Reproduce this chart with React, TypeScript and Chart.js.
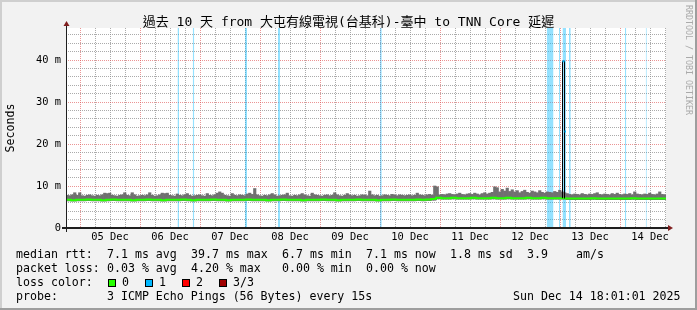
import React, { useEffect, useRef } from 'react';
import { Chart, registerables } from 'chart.js';

Chart.register(...registerables);

// ---------- data ----------
// time axis in hours since 04 Dec 00:00; one smoke value per hour from X_MIN
const X_MIN = 18.4;
const X_MAX = 258.4;
const Y_MAX = 47.62; // ms

const dayTickHours = [36, 60, 84, 108, 132, 156, 180, 204, 228, 252];
const dayLabels = ['05 Dec', '06 Dec', '07 Dec', '08 Dec', '09 Dec', '10 Dec', '11 Dec', '12 Dec', '13 Dec', '14 Dec'];
const yTickValues = [0, 10, 20, 30, 40];
const yTickLabels = ['0', '10 m', '20 m', '30 m', '40 m'];

// smoke upper edge (ms), 1 h per value
const smokeHigh = [
  7.8, 7.7, 7.9, 8.4, 7.8, 8.4, 7.7, 7.6, 7.8, 7.9, 7.7, 7.6, 7.8, 7.7, 7.9, 8.3, 8.2, 8.3, 7.8, 7.7,
  7.6, 7.8, 7.9, 8.4, 7.8, 7.7, 8.4, 7.9, 7.6, 7.7, 7.8, 7.7, 7.9, 8.4, 7.8, 7.6, 7.7, 7.9, 8.3, 8.2,
  8.3, 7.8, 7.7, 7.6, 8.1, 7.8, 7.7, 7.9, 8.2, 7.8, 7.6, 7.7, 7.8, 7.9, 7.7, 7.6, 8.2, 7.8, 7.7, 7.9,
  8.3, 8.6, 8.3, 7.8, 7.7, 7.6, 8.2, 7.8, 7.7, 7.9, 7.8, 7.7, 8.1, 8.3, 8.0, 9.4, 7.9, 7.7, 7.6, 7.8,
  7.7, 7.9, 8.2, 7.8, 7.6, 7.7, 7.8, 7.9, 8.3, 7.7, 7.6, 7.8, 7.7, 7.9, 8.2, 7.8, 7.7, 7.6, 8.3, 7.9,
  7.8, 7.7, 7.6, 7.8, 7.9, 7.7, 7.8, 8.4, 7.9, 7.7, 7.6, 7.8, 8.2, 7.9, 7.7, 7.8, 7.6, 7.7, 7.9, 7.8,
  7.7, 8.8, 7.9, 7.7, 7.8, 7.6, 7.7, 7.9, 7.8, 7.7, 8.0, 7.8, 7.7, 7.9, 7.8, 7.7, 7.8, 7.9, 7.7, 7.8,
  8.3, 7.9, 7.8, 7.7, 7.9, 8.0, 7.8, 10.0, 9.8, 7.9, 8.0, 7.9, 8.1, 8.2, 8.0, 7.9, 8.1, 8.3, 8.0, 7.9,
  8.1, 8.2, 8.0, 8.3, 8.1, 7.9, 8.2, 8.4, 8.1, 8.3, 8.5, 9.8, 9.6, 8.6, 9.2, 8.8, 9.5, 8.7, 9.1, 8.6,
  8.9, 8.4, 8.7, 9.0, 8.5, 8.3, 8.8, 8.6, 8.4, 8.9, 8.5, 8.3, 8.6, 8.5, 8.4, 8.7, 8.5, 9.0, 8.6, 8.4,
  8.2, 8.0, 7.9, 8.1, 8.0, 7.9, 8.2, 8.0, 7.9, 8.1, 8.0, 8.2, 8.4, 8.0, 7.9, 8.1, 8.0, 7.9, 8.2, 8.0,
  8.3, 8.0, 7.9, 8.1, 8.0, 8.2, 7.9, 8.6, 8.1, 8.0, 7.9, 8.1, 8.0, 8.3, 8.0, 7.9, 8.1, 8.6, 8.0, 7.9,
];

// smoke lower edge (ms), 2 h per value
const smokeLow = [
  6.45, 6.4, 6.45, 6.45, 6.5, 6.45, 6.45, 6.4, 6.45, 6.5, 6.45, 6.45, 6.45, 6.4, 6.45, 6.45, 6.5, 6.45, 6.45, 6.4,
  6.45, 6.45, 6.45, 6.5, 6.45, 6.4, 6.45, 6.45, 6.45, 6.5, 6.45, 6.45, 6.4, 6.45, 6.45, 6.45, 6.5, 6.45, 6.45, 6.45,
  6.4, 6.45, 6.45, 6.5, 6.45, 6.45, 6.45, 6.4, 6.45, 6.45, 6.45, 6.5, 6.45, 6.45, 6.4, 6.45, 6.45, 6.45, 6.5, 6.45,
  6.45, 6.45, 6.4, 6.45, 6.45, 6.5, 6.45, 6.45, 6.45, 6.45, 6.5, 6.45, 6.5, 6.6, 6.9, 6.85, 6.85, 6.9, 6.85, 6.85,
  6.85, 6.9, 6.85, 6.85, 6.85, 6.9, 6.85, 6.85, 6.9, 6.85, 6.85, 6.85, 6.9, 6.85, 6.85, 6.9, 6.85, 6.85, 6.85, 6.85,
  6.75, 6.75, 6.75, 6.75, 6.75, 6.8, 6.75, 6.75, 6.75, 6.75, 6.75, 6.75, 6.75, 6.8, 6.75, 6.75, 6.75, 6.75, 6.75, 6.75,
];

// median rtt (ms), 2 h per value
const median = [
  6.7, 6.6, 6.7, 6.7, 6.8, 6.7, 6.7, 6.6, 6.7, 6.8, 6.7, 6.7, 6.7, 6.6, 6.7, 6.7, 6.8, 6.7, 6.7, 6.6,
  6.7, 6.7, 6.7, 6.8, 6.7, 6.6, 6.7, 6.7, 6.7, 6.8, 6.7, 6.7, 6.6, 6.7, 6.7, 6.7, 6.8, 6.7, 6.7, 6.7,
  6.6, 6.7, 6.7, 6.8, 6.7, 6.7, 6.7, 6.6, 6.7, 6.7, 6.7, 6.8, 6.7, 6.7, 6.6, 6.7, 6.7, 6.7, 6.8, 6.7,
  6.7, 6.7, 6.6, 6.7, 6.7, 6.8, 6.7, 6.7, 6.7, 6.7, 6.8, 6.7, 6.8, 6.9, 7.2, 7.1, 7.1, 7.2, 7.1, 7.1,
  7.1, 7.2, 7.1, 7.1, 7.1, 7.2, 7.1, 7.1, 7.2, 7.1, 7.1, 7.1, 7.2, 7.1, 7.1, 7.2, 7.1, 7.1, 7.1, 7.1,
  7.0, 7.0, 7.0, 7.0, 7.0, 7.1, 7.0, 7.0, 7.0, 7.0, 7.0, 7.0, 7.0, 7.1, 7.0, 7.0, 7.0, 7.0, 7.0, 7.0,
];

// packet-loss (1/3) periods, hours
const lossStart = [63.0, 69.1, 90.0, 103.2, 144.0, 210.7, 215.6, 217.0, 219.6, 242.0, 250.3];
const lossEnd = [63.6, 69.7, 90.8, 104.0, 144.7, 213.4, 216.0, 218.4, 220.3, 242.5, 250.7];

// latency spike samples
const spikeStart = [217.0, 217.8];
const spikeEnd = [217.8, 218.4];
const spikeValue = [39.7, 23.0];
const spikeBase = 7.1;

const titleText = '過去 10 天 from 大屯有線電視(台基科)-臺中 to TNN Core 延遲';
const legendMedian = [
  [0, 'median rtt:'], [13, '7.1 ms avg'], [25, '39.7 ms max'], [38, '6.7 ms min'],
  [50, '7.1 ms now'], [62, '1.8 ms sd'], [73, '3.9'], [80, 'am/s'],
];
const legendLoss = [
  [0, 'packet loss:'], [13, '0.03 % avg'], [25, '4.20 % max'], [38, '0.00 % min'], [50, '0.00 % now'],
];
const lossColorNames = ['0', '1', '2', '3/3'];
const lossColors = ['#26ff00', '#00b8ff', '#ff0000', '#a00000'];
const probeText = '3 ICMP Echo Pings (56 Bytes) every 15s';
const dateText = 'Sun Dec 14 18:01:01 2025';

// ---------- drawing ----------
const W = 697;
const H = 310;
const MONO = '"DejaVu Sans Mono", "Noto Sans CJK TC", monospace';
const CH = 7.0;

const decor = {
  id: 'decor',
  beforeDraw(chart: any) {
    const { ctx, chartArea: a } = chart;
    ctx.save();
    ctx.fillStyle = '#f2f2f2';
    ctx.fillRect(0, 0, W, H);
    ctx.fillStyle = '#cfcfcf';
    ctx.fillRect(0, 0, W, 2);
    ctx.fillRect(0, 0, 2, H);
    ctx.fillStyle = '#9e9e9e';
    ctx.fillRect(W - 2, 0, 2, H);
    ctx.fillRect(0, H - 2, W, 2);
    ctx.fillStyle = '#ffffff';
    ctx.fillRect(a.left, a.top, a.right - a.left, a.bottom - a.top);
    ctx.restore();
  },
  afterDraw(chart: any) {
    const { ctx, chartArea: a } = chart;
    ctx.save();
    const x0 = a.left + 0.5;
    const y0 = a.bottom + 0.5;
    ctx.strokeStyle = '#1f1f1f';
    ctx.lineWidth = 2;
    ctx.beginPath();
    ctx.moveTo(a.left - 4, a.bottom);
    ctx.lineTo(a.right + 4, a.bottom);
    ctx.stroke();
    ctx.lineWidth = 1;
    ctx.beginPath();
    ctx.moveTo(x0, a.bottom + 4);
    ctx.lineTo(x0, a.top - 4);
    ctx.stroke();
    ctx.fillStyle = '#801f1f';
    ctx.beginPath();
    ctx.moveTo(a.right + 2, y0 - 3.5);
    ctx.lineTo(a.right + 2, y0 + 2.5);
    ctx.lineTo(a.right + 7, y0 - 0.5);
    ctx.closePath();
    ctx.fill();
    ctx.beginPath();
    ctx.moveTo(x0 - 3, a.top - 2);
    ctx.lineTo(x0 + 3, a.top - 2);
    ctx.lineTo(x0, a.top - 7);
    ctx.closePath();
    ctx.fill();

    // title
    ctx.fillStyle = '#000';
    ctx.font = `13px ${MONO}`;
    ctx.textAlign = 'center';
    ctx.textBaseline = 'alphabetic';
    ctx.fillText(titleText, W / 2, 26);

    // vertical axis label
    ctx.save();
    ctx.translate(14, (a.top + a.bottom) / 2);
    ctx.rotate(-Math.PI / 2);
    ctx.font = `11.6px ${MONO}`;
    ctx.textAlign = 'center';
    ctx.fillText('Seconds', 0, 0);
    ctx.restore();

    // watermark
    ctx.save();
    ctx.translate(688, 5);
    ctx.rotate(Math.PI / 2);
    ctx.font = `8.3px ${MONO}`;
    ctx.fillStyle = '#aaaaaa';
    ctx.textAlign = 'left';
    ctx.textBaseline = 'middle';
    ctx.fillText('RRDTOOL / TOBI OETIKER', 0, 0);
    ctx.restore();

    // legend
    ctx.font = `11.6px ${MONO}`;
    ctx.textAlign = 'left';
    ctx.fillStyle = '#000';
    const lx = 16;
    const rows = [258, 272, 286, 300];
    legendMedian.forEach(([c, t]) => ctx.fillText(t as string, lx + (c as number) * CH, rows[0]));
    legendLoss.forEach(([c, t]) => ctx.fillText(t as string, lx + (c as number) * CH, rows[1]));
    ctx.fillText('loss color:', lx, rows[2]);
    lossColorNames.forEach((n, i) => {
      const bx = 108 + i * 37;
      ctx.fillStyle = lossColors[i];
      ctx.fillRect(bx, rows[2] - 7, 8, 8);
      ctx.strokeStyle = '#000';
      ctx.strokeRect(bx + 0.5, rows[2] - 6.5, 7, 7);
      ctx.fillStyle = '#000';
      ctx.fillText(n, bx + 14, rows[2]);
    });
    ctx.fillText('probe:', lx, rows[3]);
    ctx.fillText(probeText, lx + 13 * CH, rows[3]);
    ctx.textAlign = 'right';
    ctx.fillText(dateText, 680.5, rows[3]);
    ctx.restore();
  },
};

export default function App() {
  const ref = useRef<HTMLCanvasElement>(null);
  useEffect(() => {
    document.body.style.margin = '0';
    const smokeData = smokeHigh.map((hi, i) => ({ x: X_MIN + i + 0.5, y: [smokeLow[Math.floor(i / 2)], hi] }));
    const medianData = median.map((v, k) => ({ x: X_MIN + 2 * k, y: v }));
    medianData.push({ x: X_MAX, y: median[median.length - 1] });
    const lossData: any[] = [];
    lossStart.forEach((s, j) => {
      lossData.push({ x: s, y: Y_MAX }, { x: lossEnd[j], y: Y_MAX }, { x: lossEnd[j], y: null });
    });
    const outlineData = [
      { x: spikeStart[0], y: spikeBase },
      { x: spikeStart[0], y: spikeValue[0] },
      { x: spikeEnd[0], y: spikeValue[0] },
      { x: spikeEnd[0], y: spikeBase },
    ];
    const capData: any[] = [];
    spikeStart.forEach((s, j) => {
      capData.push({ x: s, y: spikeValue[j] }, { x: spikeEnd[j], y: spikeValue[j] }, { x: spikeEnd[j], y: null });
    });

    const tickFont = { family: MONO, size: 10.4, lineHeight: 1.2 };
    const minor = 'rgba(143,143,143,0.75)';
    const major = 'rgba(222,79,79,0.6)';

    const chart = new Chart(ref.current as HTMLCanvasElement, {
      type: 'bar',
      data: {
        datasets: [
          {
            type: 'line', label: 'loss', data: lossData, order: 10, fill: 'origin',
            backgroundColor: 'rgba(0,184,255,0.42)', borderWidth: 0, pointRadius: 0, spanGaps: false, tension: 0,
          },
          {
            type: 'bar', label: 'smoke', data: smokeData, order: 8, backgroundColor: '#707070',
            borderWidth: 0, barPercentage: 1, categoryPercentage: 1,
          },
          {
            type: 'line', label: 'median', data: medianData, order: 6, stepped: true,
            borderColor: '#26ff00', borderWidth: 2, pointRadius: 0, fill: false,
          },
          {
            type: 'line', label: 'spike', data: outlineData, order: 4,
            borderColor: '#000000', borderWidth: 1, pointRadius: 0, fill: false, tension: 0,
          },
          {
            type: 'line', label: 'spikecap', data: capData, order: 2, spanGaps: false,
            borderColor: '#00b8ff', borderWidth: 2, pointRadius: 0, fill: false, tension: 0,
          },
        ] as any,
      },
      options: {
        animation: false,
        responsive: false,
        devicePixelRatio: 1,
        events: [],
        layout: { padding: { left: 0, top: 28, right: W - 666, bottom: 0 } },
        plugins: { legend: { display: false }, tooltip: { enabled: false }, title: { display: false } },
        scales: {
          x: {
            type: 'linear', min: X_MIN, max: X_MAX, offset: false,
            afterBuildTicks: (s: any) => {
              const t = [];
              for (let h = 24; h <= X_MAX; h += 6) t.push({ value: h });
              s.ticks = t;
            },
            afterFit: (s: any) => { s.height = H - 228; },
            grid: {
              offset: false, drawTicks: false, lineWidth: 1,
              color: (c: any) => (c.tick && c.tick.value % 24 === 0 ? major : minor),
            },
            border: { display: false, dash: [1, 1] },
            ticks: {
              autoSkip: false, maxRotation: 0, minRotation: 0, padding: 3, color: '#000', font: tickFont,
              callback: (v: any) => {
                const i = dayTickHours.indexOf(Number(v));
                return i >= 0 ? dayLabels[i] : '';
              },
            },
          },
          y: {
            type: 'linear', min: 0, max: Y_MAX,
            afterBuildTicks: (s: any) => {
              const t = [];
              for (let v = 0; v <= 46; v += 2) t.push({ value: v });
              s.ticks = t;
            },
            afterFit: (s: any) => { s.width = 66; },
            grid: {
              drawTicks: false, lineWidth: 1,
              color: (c: any) => {
                if (!c.tick || c.tick.value === 0) return 'rgba(0,0,0,0)';
                return c.tick.value % 10 === 0 ? major : minor;
              },
            },
            border: { display: false, dash: [1, 1] },
            ticks: {
              autoSkip: false, padding: 5, color: '#000', font: tickFont,
              callback: (v: any) => {
                const i = yTickValues.indexOf(Number(v));
                return i >= 0 ? yTickLabels[i] : '';
              },
            },
          },
        },
      } as any,
      plugins: [decor],
    });
    return () => chart.destroy();
  }, []);
  return (
    <div style={{ position: 'absolute', left: 0, top: 0 }}>
      <canvas ref={ref} width={W} height={H} style={{ display: 'block', width: W, height: H }} />
    </div>
  );
}
